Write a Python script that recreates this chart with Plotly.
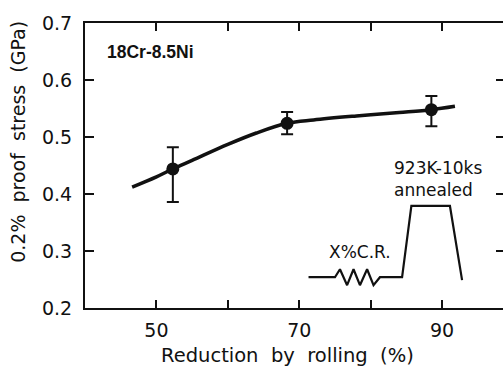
import plotly.graph_objects as go

# ---- data ----
point_x = [52.3, 68.3, 88.5]
point_y = [0.444, 0.524, 0.548]
err_upper = [0.482, 0.544, 0.572]
err_lower = [0.386, 0.505, 0.519]

curve_x = [46.6, 50.0, 52.3, 55.0, 60.0, 64.0, 68.3, 72.0, 78.0, 84.0, 88.5, 91.8]
curve_y = [0.412, 0.430, 0.444, 0.459, 0.487, 0.507, 0.524, 0.530, 0.537, 0.543, 0.548, 0.554]

# processing schematic (cold rolling zigzag + annealing trapezoid)
sched_x = [71.3, 75.0, 75.7, 76.7, 77.6, 78.5, 79.5, 80.4, 81.3, 84.4, 85.7, 91.1, 92.8]
sched_y = [0.254, 0.254, 0.268, 0.240, 0.268, 0.240, 0.268, 0.240, 0.254, 0.254, 0.379, 0.379, 0.249]

x_tickvals = [50, 60, 70, 80, 90]
x_ticktext = ["50", "", "70", "", "90"]
y_tickvals = [0.2, 0.3, 0.4, 0.5, 0.6, 0.7]
y_ticktext = ["0.2", "0.3", "0.4", "0.5", "0.6", "0.7"]

x_range = [40, 98.53]
y_range = [0.2, 0.7]

INK = "#111111"
FONT = "DejaVu Sans, sans-serif"
FONT_BOLD = "Liberation Sans, Arial, sans-serif"

err_plus = [u - y for u, y in zip(err_upper, point_y)]
err_minus = [y - l for l, y in zip(err_lower, point_y)]

fig = go.Figure()
fig.add_trace(go.Scatter(x=curve_x, y=curve_y, mode="lines",
                         line=dict(color=INK, width=3.5, shape="spline"),
                         showlegend=False, hoverinfo="skip"))
fig.add_trace(go.Scatter(x=point_x, y=point_y, mode="markers",
                         marker=dict(color=INK, size=13),
                         error_y=dict(type="data", array=err_plus, arrayminus=err_minus,
                                      symmetric=False, color=INK, thickness=2, width=6),
                         showlegend=False))
fig.add_trace(go.Scatter(x=sched_x, y=sched_y, mode="lines",
                         line=dict(color=INK, width=2.2),
                         showlegend=False, hoverinfo="skip"))
# invisible trace to host right-side tick marks
fig.add_trace(go.Scatter(x=[None], y=[None], yaxis="y2", showlegend=False))

fig.update_layout(
    width=503, height=369,
    margin=dict(l=85, r=0, t=23, b=61),
    paper_bgcolor="white", plot_bgcolor="white",
    font=dict(family=FONT, size=19, color=INK),
    xaxis=dict(range=x_range, tickvals=x_tickvals, ticktext=x_ticktext,
               ticks="inside", ticklen=8, tickwidth=2, tickcolor=INK,
               showline=True, linewidth=2, linecolor=INK, mirror="ticks",
               showgrid=False, zeroline=False, ticklabelstandoff=4,
               tickfont=dict(family=FONT, size=19, color=INK)),
    yaxis=dict(range=y_range, tickvals=y_tickvals, ticktext=y_ticktext,
               ticks="inside", ticklen=9, tickwidth=2, tickcolor=INK,
               showline=True, linewidth=2, linecolor=INK,
               showgrid=False, zeroline=False, ticklabelstandoff=7,
               tickfont=dict(family=FONT, size=19, color=INK)),
    yaxis2=dict(range=y_range, tickvals=y_tickvals[1:-1], overlaying="y", side="right",
                anchor="x", ticks="inside", ticklen=7, tickwidth=2, tickcolor=INK,
                showline=False, showticklabels=False, showgrid=False, zeroline=False),
    annotations=[
        dict(text="<b>18Cr-8.5Ni</b>", x=42.8, y=0.649, xref="x", yref="y",
             xanchor="left", yanchor="middle", showarrow=False,
             font=dict(family=FONT_BOLD, size=17.5, color=INK)),
        dict(text="X%C.R.", x=78.5, y=0.298, xref="x", yref="y",
             xanchor="center", yanchor="middle", showarrow=False,
             font=dict(family=FONT, size=17, color=INK)),
        dict(text="923K-10ks<br>annealed", x=83.0, y=0.386, xref="x", yref="y",
             xanchor="left", yanchor="bottom", align="left", showarrow=False,
             font=dict(family=FONT, size=17, color=INK)),
        dict(text="Reduction\u00a0\u00a0by\u00a0\u00a0rolling\u00a0\u00a0(%)",
             x=68.3, y=-0.165, xref="x", yref="paper",
             xanchor="center", yanchor="middle", showarrow=False,
             font=dict(family=FONT, size=19.5, color=INK)),
        dict(text="0.2%\u00a0\u00a0proof\u00a0\u00a0stress\u00a0\u00a0(GPa)",
             x=-0.161, y=0.582, xref="paper", yref="paper", textangle=-90,
             xanchor="center", yanchor="middle", showarrow=False,
             font=dict(family=FONT, size=19, color=INK)),
    ],
)

fig.write_html(
    "out.html",
    config={"displayModeBar": False},
    post_script="document.body.style.margin='0';document.body.style.overflow='hidden';",
)
